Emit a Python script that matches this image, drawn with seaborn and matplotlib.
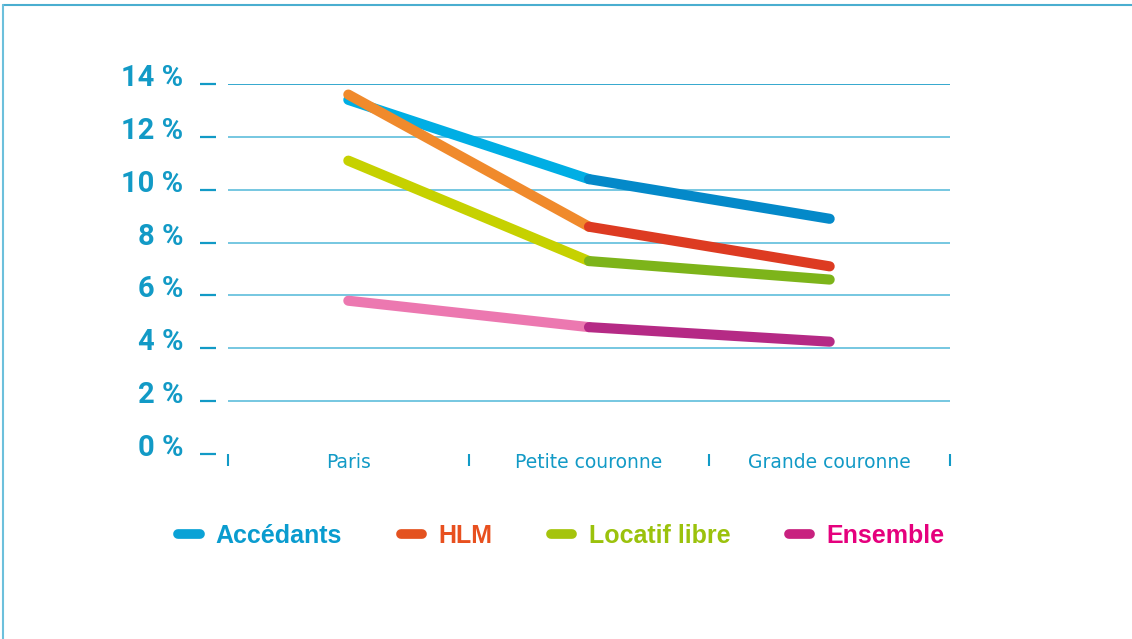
import pandas as pd
import matplotlib.pyplot as plt
import matplotlib.transforms as mtransforms
import seaborn as sns
from matplotlib.lines import Line2D
from matplotlib.font_manager import FontProperties

# Données (%)
zones = ['Paris', 'Petite couronne', 'Grande couronne']
accedants = [13.4, 10.4, 8.9]
hlm = [13.6, 8.6, 7.1]
locatif_libre = [11.1, 7.3, 6.6]
ensemble = [5.8, 4.8, 4.25]
series = ['Accédants', 'HLM', 'Locatif libre', 'Ensemble']
y_ticks = [0, 2, 4, 6, 8, 10, 12, 14]

# couleurs : un ton par segment pour imiter le dégradé
seg_colors = {
    'Accédants': ['#00aee4', '#0489c9'],
    'HLM': ['#f08a2c', '#dd3b22'],
    'Locatif libre': ['#c6d100', '#7db41a'],
    'Ensemble': ['#ec78b0', '#b52a85'],
}
legend_colors = {
    'Accédants': '#0aa2d6',
    'HLM': '#e4521f',
    'Locatif libre': '#a5c40c',
    'Ensemble': '#c8217f',
}
text_colors = {
    'Accédants': '#0a9ccf',
    'HLM': '#e8501f',
    'Locatif libre': '#9bc20c',
    'Ensemble': '#e5007d',
}
blue = '#129ac6'

values = dict(zip(series, [accedants, hlm, locatif_libre, ensemble]))
rows = []
for s in series:
    for i, z in enumerate(zones):
        rows.append({'serie': s, 'zone': z, 'x': i, 'taux': values[s][i]})
data = pd.DataFrame(rows)

sns.set_style('white')
plt.rcParams['font.family'] = ['Roboto', 'DejaVu Sans']

fig = plt.figure(figsize=(11.32, 6.39), dpi=100)
ax = fig.add_axes([228 / 1132, 1 - 454 / 639, (950 - 228) / 1132, (454 - 84) / 639])

for s in series:
    d = data[data['serie'] == s]
    for k in range(len(zones) - 1):
        seg = d[(d['x'] >= k) & (d['x'] <= k + 1)]
        sns.lineplot(x='x', y='taux', data=seg, ax=ax, color=seg_colors[s][k],
                     lw=7.3, solid_capstyle='round', legend=False)

ax.set_xlim(-0.5, 2.5)
ax.set_ylim(0, 14)
ax.set_xlabel('')
ax.set_ylabel('')

for sp in ax.spines.values():
    sp.set_visible(False)

# axe y
ax.spines['left'].set_position(('outward', 8.6))
ax.tick_params(axis='y', left=True, length=11.5, width=1.6, color=blue, direction='out', pad=12,
               labelsize=21, labelcolor=blue)
ax.set_yticks(y_ticks)
ax.set_yticklabels([f'{v} %' for v in y_ticks], fontweight='bold')
lift = mtransforms.ScaledTranslation(0, 9 / 100, fig.dpi_scale_trans)
for lab in ax.get_yticklabels():
    lab.set_transform(lab.get_transform() + lift)

# axe x
ax.set_xticks([-0.5, 0.5, 1.5, 2.5], minor=True)
ax.tick_params(axis='x', which='major', bottom=True, length=0, pad=-1, labelsize=13, labelcolor=blue)
ax.tick_params(axis='x', which='minor', bottom=True, length=8.5, width=1.5, color=blue, direction='out')
ax.set_xticks(range(len(zones)))
ax.set_xticklabels(zones, fontfamily='DejaVu Sans', fontsize=13.5)

ax.yaxis.grid(True, color='#5fbddb', lw=1.2)
ax.xaxis.grid(False)
ax.set_axisbelow(True)
glines = ax.get_ygridlines()
glines[0].set_visible(False)
glines[-1].set_color(blue)

# légende
handles = [Line2D([], [], color=legend_colors[s], lw=7, solid_capstyle='round') for s in series]
fig.legend(handles, series, loc='center', bbox_to_anchor=(0.496, 0.161), ncol=4, frameon=False,
           prop=FontProperties(family='Liberation Sans', weight='bold', size=18),
           handlelength=0.85, handletextpad=0.65, columnspacing=2.35,
           labelcolor=[text_colors[s] for s in series])

# cadre
fig.add_artist(Line2D([3 / 1132, 1], [1 - 5 / 639] * 2, transform=fig.transFigure, color='#4aaed0', lw=1.5))
fig.add_artist(Line2D([3 / 1132] * 2, [0, 1 - 5 / 639], transform=fig.transFigure, color='#6cc0dc', lw=1.5))

plt.savefig('out.png', dpi=100)
